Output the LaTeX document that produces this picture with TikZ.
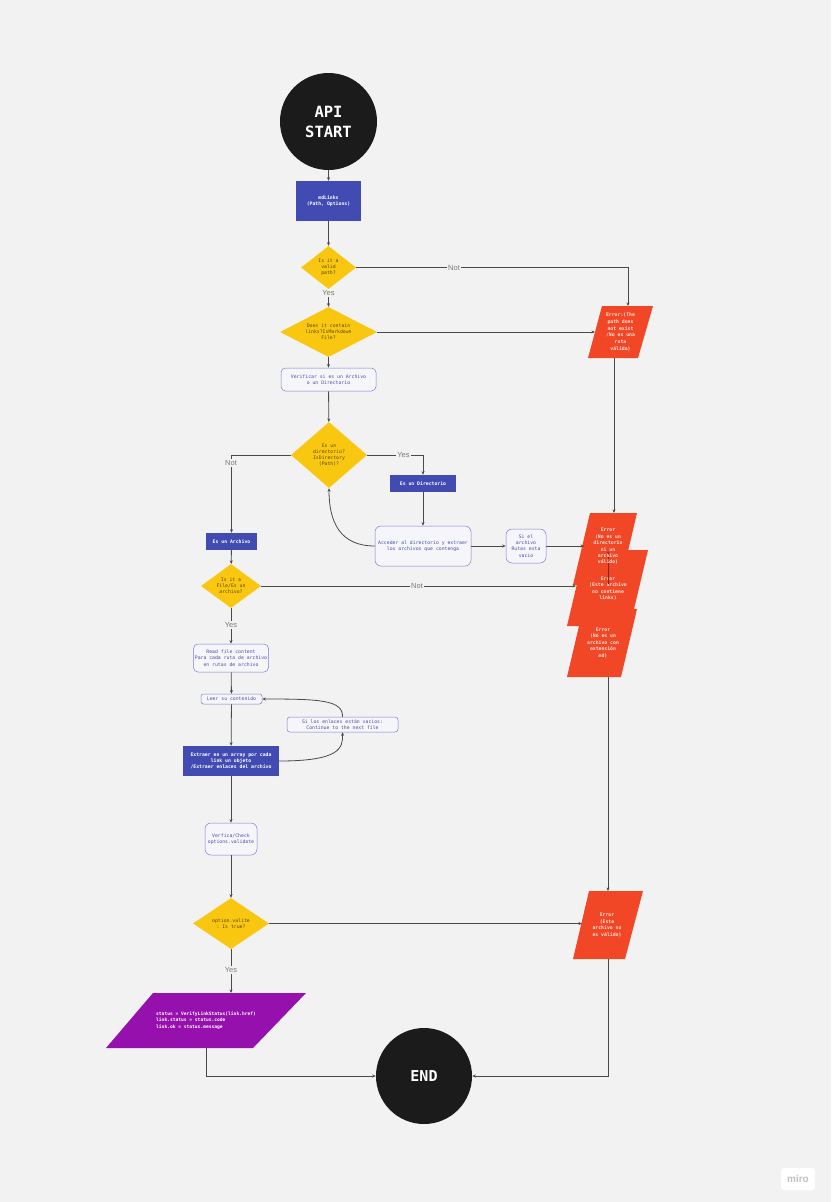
\documentclass[tikz,border=0pt]{standalone}
\usepackage{fontspec}
\setmainfont{Liberation Sans}
\setmonofont{DejaVu Sans Mono}
\usetikzlibrary{shapes.geometric,arrows.meta}
\definecolor{bg}{HTML}{F2F2F2}
\definecolor{linec}{HTML}{4A4A4A}
\definecolor{blackc}{HTML}{1B1B1B}
\definecolor{indigo}{HTML}{414BB2}
\definecolor{yel}{HTML}{FAC710}
\definecolor{errc}{HTML}{F24726}
\definecolor{purp}{HTML}{9510AC}
\definecolor{rbord}{HTML}{7A7FD1}
\definecolor{rfill}{HTML}{F5F5FA}
\definecolor{rtext}{HTML}{4A4FA6}
\definecolor{dtextc}{HTML}{5A4810}
\definecolor{etextc}{HTML}{FFE3DA}
\definecolor{lblc}{HTML}{7A7A7A}
\definecolor{redline}{HTML}{8E2410}
\begin{document}
\begin{tikzpicture}[x=1pt,y=-1pt,
  ln/.style={draw=linec,line width=0.8pt},
  arr/.style={ln,-{Stealth[length=3.6pt,width=3pt]}},
  lbl/.style={font=\fontsize{7.5}{8}\selectfont, text=lblc, fill=bg, inner sep=1pt},
  box/.style={rectangle, fill=indigo, inner sep=0, text=white, font=\fontsize{4.8}{6}\selectfont\ttfamily\bfseries, align=center},
  rbox/.style={rectangle, rounded corners=4.5pt, draw=rbord, line width=0.5pt, fill=rfill, inner sep=0, text=rtext, font=\fontsize{4.8}{6.3}\selectfont\ttfamily, align=center},
  dia/.style={diamond, fill=yel, inner sep=0},
  dtext/.style={font=\fontsize{4.8}{6}\selectfont\ttfamily, text=dtextc, align=center, inner sep=0},
  etext/.style={font=\fontsize{4.8}{6.5}\selectfont\ttfamily\bfseries, text=etextc, align=center, inner sep=0},
  circ/.style={circle, fill=blackc, inner sep=0, text=white, align=center}
]
\fill[bg] (0,0) rectangle (831,1202);
\useasboundingbox (0,0) rectangle (831,1202);

% ---- main column nodes
\node[circ, minimum size=97pt, font=\fontsize{15.5}{20}\selectfont\ttfamily\bfseries] (start) at (328.5,121.5) {API\\START};
\node[box, minimum width=65, minimum height=40] (md) at (328.5,201) {mdLinks\\(Path, Options)};
\node[dia, minimum width=55, minimum height=43] (d1) at (328.5,267.5) {};
\node[dtext] (d1t) at (d1) {Is it a\\valid\\path?};
\node[dia, minimum width=97, minimum height=50] (d2) at (328.5,332) {};
\node[dtext] (d2t) at (d2) {Does it contain\\links?IsMarkdown\\File?};
\node[rbox, minimum width=95, minimum height=23] (ver) at (328.5,379.5) {Verificar si es un Archivo\\o un Directorio};
\node[dia, minimum width=76, minimum height=66] (d3) at (329,455) {};
\node[dtext] (d3t) at (d3) {Es un\\directorio?\\IsDirectory\\(Path)?};
\node[box, minimum width=66, minimum height=17] (dir) at (423,483.5) {Es un Directorio};
\node[rbox, minimum width=96, minimum height=40, rounded corners=6pt] (acc) at (423,546) {Acceder al directorio y extraer\\los archivos que contenga};
\node[rbox, minimum width=40, minimum height=34, rounded corners=6pt] (sia) at (526,546) {Si el\\archivo\\Rutas esta\\vacio};
\node[box, minimum width=51, minimum height=17] (arch) at (231.5,541.5) {Es un Archivo};
\node[dia, minimum width=60, minimum height=44] (d4) at (231,586) {};
\node[dtext] (d4t) at (d4) {Is it a\\File/Es un\\archivo?};
\node[rbox, minimum width=75, minimum height=28] (read) at (231,658) {Read file content\\Para cada ruta de archivo\\en rutas de archivo};
\node[rbox, minimum width=61, minimum height=10, rounded corners=2.5pt] (leer) at (231.5,699) {Leer su contenido};
\node[rbox, minimum width=111, minimum height=15, rounded corners=3pt] (sil) at (342.5,724.5) {Si los enlaces están vacios:\\Continue to the next file};
\node[box, minimum width=96, minimum height=30] (ext) at (231,761) {Extraer en un array por cada\\link un objeto\\/Extraer enlaces del archivo};
\node[rbox, minimum width=52, minimum height=32, rounded corners=6pt] (vf) at (231,839) {Verfica/Check\\options.validate};
\node[dia, minimum width=76, minimum height=51] (d5) at (231,923.5) {};
\node[dtext] (d5t) at (d5) {option.valite\\: Is true?};
\node[circ, minimum size=96pt, font=\fontsize{15}{18}\selectfont\ttfamily\bfseries] (end) at (424,1076) {END};

% ---- parallelograms
\fill[errc] (602,306) -- (653,306) -- (638,358) -- (588,358) -- cycle;
\fill[errc] (590,513) -- (637,513) -- (620,585) -- (573,585) -- cycle;
\fill[errc] (585,550) -- (648,550) -- (630,626) -- (567,626) -- cycle;
\fill[errc] (583,609) -- (637,609) -- (621,677) -- (567,677) -- cycle;
\fill[errc] (589,891) -- (643,891) -- (625,959) -- (573,959) -- cycle;
\fill[purp] (153,993) -- (306,993) -- (253,1048) -- (106,1048) -- cycle;

\coordinate (e0n) at (628,306);
\coordinate (e0w) at (595,332);
\coordinate (e0s) at (614,358);
\coordinate (e1n) at (614,513);
\coordinate (e1w) at (584,546);
\coordinate (e1in) at (608,551);
\coordinate (e2in) at (608,584);
\coordinate (e2w) at (576,586);
\coordinate (e3s) at (608,677);
\coordinate (e4n) at (608,891);
\coordinate (e4w) at (582,923.5);
\coordinate (e4s) at (608,959);
\coordinate (pun) at (231,993);
\coordinate (pus) at (206,1048);

\node[etext, font=\fontsize{4.8}{6.8}\selectfont\ttfamily\bfseries] (e0) at (620.5,332) {Error:(The\\path does\\not exist\\/No es una\\ruta\\válida)};
\node[etext, font=\fontsize{4.8}{6.3}\selectfont\ttfamily\bfseries] (e2) at (608,588.5) {Error\\(Este archivo\\no contiene\\links)};
\draw[arr, draw=redline, line width=1pt] (e2in) -- (e1in);
\node[etext, font=\fontsize{4.8}{6.4}\selectfont\ttfamily\bfseries] (e1) at (608,546.5) {Error\\(No es un\\directorio\\ni un\\archivo\\válido)};
\node[etext] (e3) at (603,643) {Error\\(No es un\\archivo con\\extensión\\md)};
\node[etext, font=\fontsize{4.8}{6.7}\selectfont\ttfamily\bfseries] (e4) at (607,925) {Error\\(Este\\archivo no\\es válido)};
\node[anchor=west, align=left, inner sep=0, text=white, font=\fontsize{4.6}{6.5}\selectfont\ttfamily\bfseries] (pu) at (156,1020.5) {status = VerifyLinkStatus(link.href)\\link.status = status.code\\link.ok = status.message};

% ---- connectors
\draw[arr] (start) -- (md);
\draw[arr] (md) -- (d1);
\draw[arr] (d1.east) -| (e0n);
\draw[arr] (d1) -- (d2);
\draw[arr] (d2.east) -- (e0w);
\draw[arr] (d2) -- (ver);
\draw[arr] (ver) -- (d3);
\draw[arr] (d3.west) -| (arch.north);
\draw[arr] (d3.east) -| (dir.north);
\draw[arr] (dir) -- (acc);
\draw[arr] (acc.west) .. controls (340,546) and (329,522) .. (d3.south);
\draw[arr] (acc) -- (sia);
\draw[arr] (sia) -- (e1w);
\draw[arr] (e0s) -- (e1n);
\draw[arr] (arch) -- (d4);
\draw[arr] (d4.east) -- (e2w);
\draw[arr] (d4) -- (read);
\draw[arr] (read) -- (leer);
\draw[arr] (leer) -- (ext);
\draw[arr] (ext.east) .. controls (340,761) and (343,748) .. (sil.south);
\draw[arr] (sil.north) .. controls (343,700) and (320,699) .. (leer.east);
\draw[arr] (ext) -- (vf);
\draw[arr] (vf) -- (d5);
\draw[arr] (d5.east) -- (e4w);
\draw[arr] (d5) -- (pun);
\draw[arr] (e3s) -- (e4n);
\draw[arr] (pus) |- (end.west);
\draw[arr] (e4s) |- (end.east);

% ---- labels
\node[lbl] (l1) at (454,267.5) {Not};
\node[lbl] (l2) at (328.5,293) {Yes};
\node[lbl] (l3) at (231,463) {Not};
\node[lbl] (l4) at (403.5,455) {Yes};
\node[lbl] (l5) at (417,586) {Not};
\node[lbl] (l6) at (231,625) {Yes};
\node[lbl] (l7) at (231,970) {Yes};

\node[fill=white, rounded corners=3pt, minimum width=34, minimum height=22, inner sep=0, text=black!25, font=\fontsize{10}{10}\selectfont\bfseries] (miro) at (798,1179) {miro};
\end{tikzpicture}
\end{document}
